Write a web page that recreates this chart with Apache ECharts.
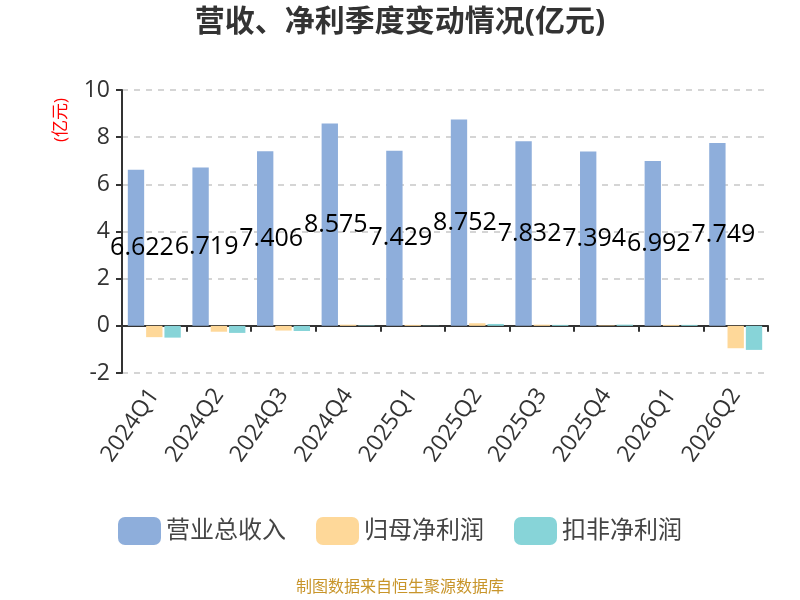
<!DOCTYPE html>
<html>
<head>
<meta charset="utf-8">
<script src="https://cdn.jsdelivr.net/npm/echarts@6/dist/echarts.min.js"></script>
<style>
    html, body { margin: 0; padding: 0; background: #fff; }
    #main { width: 800px; height: 600px; }
</style>
</head>
<body>
<div id="main"></div>
<script type="text/javascript">
    // 数据
    var quarters = ['2024Q1', '2024Q2', '2024Q3', '2024Q4', '2025Q1', '2025Q2', '2025Q3', '2025Q4', '2026Q1', '2026Q2'];
    var revenue = [6.622, 6.719, 7.406, 8.575, 7.429, 8.752, 7.832, 7.394, 6.992, 7.749];
    var netProfit = [-0.48, -0.25, -0.2, 0.05, 0.04, 0.11, 0.05, 0.02, 0.04, -0.95];
    var deductedProfit = [-0.5, -0.3, -0.22, 0.02, 0.01, 0.08, 0.04, 0.05, 0.04, -1.02];

    var font = '"Open Sans", "Noto Sans CJK SC", sans-serif';
    var myChart = echarts.init(document.getElementById('main'));
    var option = {
        backgroundColor: '#fff',
        textStyle: { fontFamily: font },
        title: {
            text: '营收、净利季度变动情况(亿元)',
            left: 'center',
            top: 2,
            textStyle: { fontSize: 30, fontWeight: 'bold', color: '#333', fontFamily: font }
        },
        legend: {
            data: ['营业总收入', '归母净利润', '扣非净利润'],
            bottom: 50,
            left: 'center',
            itemWidth: 43,
            itemHeight: 28,
            itemGap: 30,
            textStyle: { fontSize: 24, color: '#444', fontFamily: font }
        },
        graphic: [{
            type: 'text',
            left: 'center',
            top: 579,
            style: {
                text: '制图数据来自恒生聚源数据库',
                fill: '#c8952a',
                fontSize: 16,
                fontFamily: font
            }
        }, {
            // 纵轴单位
            type: 'text',
            x: 53,
            y: 142,
            rotation: Math.PI / 2,
            style: {
                text: '(亿元)',
                fill: 'red',
                fontSize: 17,
                fontFamily: font
            }
        }],
        grid: {
            left: 122,
            right: 32,
            top: 90,
            bottom: 227
        },
        xAxis: [{
            type: 'category',
            data: quarters,
            axisLine: { lineStyle: { color: '#333', width: 2 } },
            axisTick: { show: true, length: 6, lineStyle: { color: '#333', width: 2 } },
            axisLabel: {
                interval: 0,
                rotate: 55,
                fontSize: 23,
                color: '#333',
                margin: 18,
                fontFamily: font
            }
        }],
        yAxis: [{
            type: 'value',
            min: -2,
            max: 10,
            interval: 2,
            axisLine: { show: true, lineStyle: { color: '#333', width: 2 } },
            axisTick: { show: true, length: 6, lineStyle: { color: '#333', width: 2 } },
            axisLabel: { fontSize: 23, color: '#333', margin: 12, fontFamily: font },
            splitLine: { lineStyle: { type: [6, 6], color: '#c8c8c8', width: 1.5 } }
        }],
        series: [{
            name: '营业总收入',
            type: 'bar',
            barGap: '12%',
            barCategoryGap: '18%',
            itemStyle: { color: '#8eaedb' },
            label: {
                show: true,
                position: 'inside',
                offset: [6, 0],
                color: '#000',
                fontSize: 25,
                fontFamily: font
            },
            data: revenue
        }, {
            name: '归母净利润',
            type: 'bar',
            itemStyle: { color: '#fed899' },
            data: netProfit
        }, {
            name: '扣非净利润',
            type: 'bar',
            itemStyle: { color: '#87d4d8' },
            data: deductedProfit
        }]
    };
    myChart.setOption(option);
</script>
</body>
</html>
